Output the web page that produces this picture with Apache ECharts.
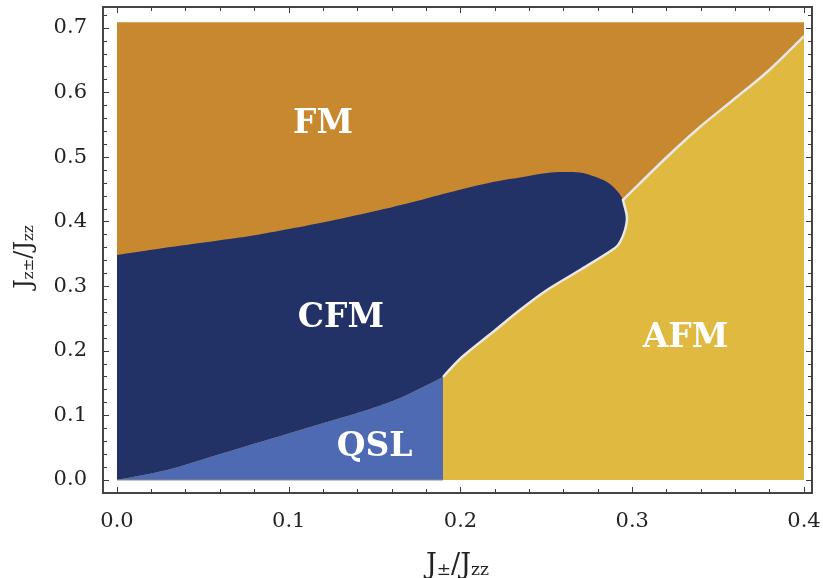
<!DOCTYPE html>
<html><head><meta charset="utf-8">
<script src="https://cdn.jsdelivr.net/npm/echarts@6/dist/echarts.min.js"></script>
<style>html,body{margin:0;padding:0;background:#fff}#c{width:823px;height:578px}</style>
</head><body><div id="c"></div>
<script>
// ---- tick labels ----
const xMajorTicks = [0, 0.1, 0.2, 0.3, 0.4];
const xMinorTicks = [0.02,0.04,0.06,0.08,0.12,0.14,0.16,0.18,0.22,0.24,0.26,0.28,0.32,0.34,0.36,0.38];
const yMajorTicks = [0, 0.1, 0.2, 0.3, 0.4, 0.5, 0.6, 0.7];
const yMinorTicks = [0.02,0.04,0.06,0.08,0.12,0.14,0.16,0.18,0.22,0.24,0.26,0.28,0.32,0.34,0.36,0.38,0.42,0.44,0.46,0.48,0.52,0.54,0.56,0.58,0.62,0.64,0.66,0.68,0.72];

// ---- phase boundaries (J±/Jzz, Jz±/Jzz) ----
const fmRegion = [[0,0],[0.4,0],[0.4,0.709],[0,0.709]];
// FM / CFM boundary from the left edge to the junction point
const cfmUpper = [[0,0.3485],[0.0192,0.3562],[0.0483,0.367],[0.0774,0.3779],[0.1001,0.3887],[0.124,0.4011],[0.1531,0.4181],[0.1723,0.4305],[0.1921,0.4445],[0.2189,0.4615],[0.2364,0.4693],[0.2504,0.4754],[0.2597,0.477],[0.2713,0.4754],[0.2853,0.4615],[0.2917,0.446],[0.2946,0.4336]];
// CFM / AFM rounded tip
const cfmNose = [[0.2969,0.4073],[0.2958,0.3872],[0.2929,0.3686],[0.29,0.3593]];
// CFM / AFM boundary going down to the QSL corner
const cfmLower = [[0.2696,0.3252],[0.2504,0.2943],[0.2346,0.2633],[0.2189,0.2292],[0.2009,0.1905],[0.1898,0.1595]];
// QSL / CFM boundary from the origin
const qslUpper = [[0,0],[0.0291,0.0155],[0.0582,0.0387],[0.0873,0.0619],[0.1164,0.0852],[0.1456,0.1084],[0.1648,0.127],[0.1898,0.1595]];
const qslRight = [[0.1898,0]];
// AFM / FM boundary
const afmFm = [[0.2946,0.4336],[0.3202,0.5002],[0.3394,0.5467],[0.3587,0.5885],[0.3785,0.6319],[0.4,0.6876]];
const afmCorner = [[0.4,0]];

// ---- region labels ----
const labelNames = ['FM','CFM','QSL','AFM'];
const labelX = [0.12, 0.1304, 0.150, 0.331];
const labelY = [0.551, 0.251, 0.051, 0.22];

const colors = {FM:'#C8882F', AFM:'#E0B940', CFM:'#223166', QSL:'#4E6AB2'};

// a corner is kept sharp by repeating its vertex before smoothing
const sharp = p => [p, p];
const rev = a => a.slice().reverse();
const cfmPoly = [...sharp(cfmUpper[0]), ...cfmUpper.slice(1), ...cfmNose, ...cfmLower.slice(0,-1), ...sharp(cfmLower[cfmLower.length-1]), ...rev(qslUpper).slice(1,-1), ...sharp(qslUpper[0])];
const qslPoly = [...sharp(qslUpper[0]), ...qslUpper.slice(1,-1), ...sharp(qslUpper[qslUpper.length-1]), ...sharp(qslRight[0])];
const afmPoly = [...sharp(qslRight[0]), ...sharp(cfmLower[cfmLower.length-1]), ...rev(cfmLower).slice(1), ...rev(cfmNose), ...sharp(afmFm[0]), ...afmFm.slice(1,-1), ...sharp(afmFm[afmFm.length-1]), ...sharp(afmCorner[0])];
const whiteLine = [...rev(cfmLower), ...rev(cfmNose), ...sharp(afmFm[0]), ...afmFm.slice(1)];

const X_MIN = -14/1717.5, X_MAX = 0.4 + 8/1717.5;
const Y_MIN = -13/645.7, Y_MAX = 0.7 + 21/645.7;
const SMOOTH = 0.3;

function poly(points, color, smooth){
  return {type:'custom', coordinateSystem:'cartesian2d', silent:true, data:[[0,0]],
    renderItem:(params, api)=>({type:'polygon', shape:{points: points.map(p=>api.coord(p)), smooth:smooth}, style:{fill:color}})};
}
function pline(points, color, width, smooth){
  return {type:'custom', coordinateSystem:'cartesian2d', silent:true, data:[[0,0]],
    renderItem:(params, api)=>({type:'polyline', shape:{points: points.map(p=>api.coord(p)), smooth:smooth}, style:{stroke:color, lineWidth:width, fill:null}})};
}
const lineCol = '#3a3a3a';
function xAx(pos, ticks, len, showLabel){
  return {type:'value', position:pos, min:X_MIN, max:X_MAX,
    axisLine:{show:true, onZero:false, lineStyle:{color:lineCol, width:1.5}},
    axisTick:{show:true, inside:true, length:len, customValues:ticks, lineStyle:{color:lineCol, width:1}},
    axisLabel:{show:showLabel, customValues:ticks, margin:18, formatter:v=>v.toFixed(1),
      fontFamily:'DejaVu Serif', fontSize:21, color:'#222'},
    splitLine:{show:false}};
}
function yAx(pos, ticks, len, showLabel){
  return {type:'value', position:pos, min:Y_MIN, max:Y_MAX,
    axisLine:{show:true, onZero:false, lineStyle:{color:lineCol, width:1.5}},
    axisTick:{show:true, inside:true, length:len, customValues:ticks, lineStyle:{color:lineCol, width:1}},
    axisLabel:{show:showLabel, customValues:ticks, margin:16, formatter:v=>v.toFixed(1),
      fontFamily:'DejaVu Serif', fontSize:21, color:'#222'},
    splitLine:{show:false}};
}
const xAxes = [xAx('bottom', xMajorTicks, 6, true), xAx('bottom', xMinorTicks, 4, false), xAx('top', xMajorTicks, 6, false), xAx('top', xMinorTicks, 4, false)];
const yAxes = [yAx('left', yMajorTicks, 6, true), yAx('left', yMinorTicks, 4, false), yAx('right', yMajorTicks, 6, false), yAx('right', yMinorTicks, 4, false)];
const richX = {
  j:{fontFamily:'DejaVu Serif', fontSize:27, color:'#222', lineHeight:31, verticalAlign:'bottom'},
  s:{fontFamily:'DejaVu Serif', fontSize:17, color:'#222', lineHeight:21, verticalAlign:'bottom'}
};
const richY = {
  j:{fontFamily:'DejaVu Serif', fontSize:24, color:'#222', lineHeight:28, verticalAlign:'bottom'},
  s:{fontFamily:'DejaVu Serif', fontSize:15, color:'#222', lineHeight:19, verticalAlign:'bottom'}
};
Object.assign(xAxes[0], {name:'{j|J}{s|±}{j|/J}{s|zz}', nameLocation:'middle', nameGap:55, nameTextStyle:{rich:richX}});
Object.assign(yAxes[0], {name:'{j|J}{s|z±}{j|/J}{s|zz}', nameLocation:'middle', nameGap:66, nameRotate:90, nameTextStyle:{rich:richY, padding:[0,14,0,0]}});

const chart = echarts.init(document.getElementById('c'), null, {renderer:'canvas'});
chart.setOption({
  animation:false,
  backgroundColor:'#fff',
  grid:{left:103, right:11, top:7, bottom:85, containLabel:false, outerBoundsMode:'none'},
  xAxis:xAxes, yAxis:yAxes,
  series:[
    poly(fmRegion, colors.FM, 0),
    poly(afmPoly, colors.AFM, SMOOTH),
    poly(cfmPoly, colors.CFM, SMOOTH),
    poly(qslPoly, colors.QSL, SMOOTH),
    pline(whiteLine, '#e8e8e8', 2.5, SMOOTH),
    pline([[0,0],[0.1898,0]], '#8a8a8a', 1, 0),
    {type:'scatter', symbolSize:0, silent:true, itemStyle:{opacity:1},
      data: labelNames.map((n,i)=>({name:n, value:[labelX[i], labelY[i]]})),
      label:{show:true, position:'inside', formatter:'{b}', color:'#ffffff', opacity:1, textBorderWidth:0,
        fontFamily:'DejaVu Serif', fontWeight:'bold', fontSize:33}}
  ]
});
</script></body></html>
